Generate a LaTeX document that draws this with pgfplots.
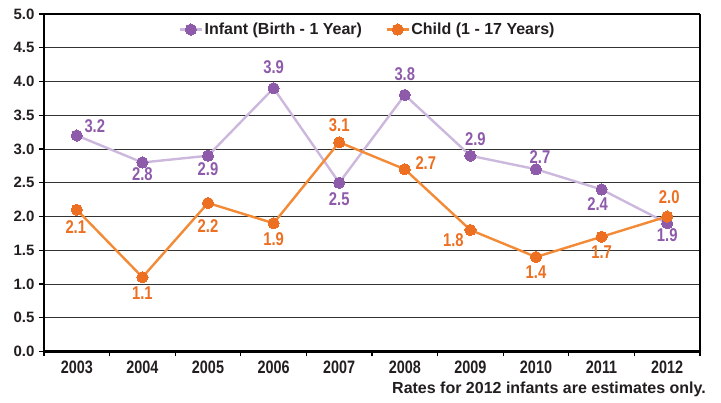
\documentclass[border=0pt]{standalone}
\usepackage{fontspec}
\setmainfont{Liberation Sans}
\newfontfamily\narrowfont{Liberation Sans}[FakeStretch=0.8]
\usepackage{pgfplots}
\usepackage{pgfplotstable}
\pgfplotsset{compat=1.18}

\definecolor{infantline}{HTML}{CDB8DD}
\definecolor{infantmark}{HTML}{8E5BAA}
\definecolor{childline}{HTML}{F28A36}
\definecolor{childmark}{HTML}{EC6F22}
\definecolor{ink}{HTML}{231F20}

% x = year index (0 = 2003), y = rate, dx/dy = label offset from the marker (pt)
\pgfplotstableread{
x y dx dy
0 3.2 18 9
1 2.8 0 -12
2 2.9 0 -13
3 3.9 0 21
4 2.5 0 -16
5 3.8 0 21
6 2.9 5 17
7 2.7 4 12
8 2.4 -4 -15
9 1.9 0 -12
}\infant

\pgfplotstableread{
x y dx dy
0 2.1 -1 -17
1 1.1 0 -16
2 2.2 0 -23
3 1.9 0 -16
4 3.1 0 17
5 2.7 21 6
6 1.8 -17 -10
7 1.4 0 -15
8 1.7 0 -15
9 2.0 2 19
}\child

\begin{document}
\begin{tikzpicture}
\begin{axis}[
  scale only axis,
  width=656pt, height=337.5pt,
  xmin=-0.5, xmax=9.5,
  ymin=0, ymax=5,
  xtick={0,...,9},
  xticklabels={2003,2004,2005,2006,2007,2008,2009,2010,2011,2012},
  major x tick style={draw=none},
  minor xtick={-0.5,0.5,...,9.5},
  minor tick length=5pt,
  ytick={0,0.5,...,5},
  major tick length=5pt,
  tick align=outside,
  tick pos=left,
  tick style={black, line width=1.2pt},
  ymajorgrids,
  grid style={black!80, line width=0.9pt},
  axis line style={black, line width=1.2pt},
  separate axis lines,
  y axis line style={line width=2.2pt},
  x axis line style={line width=2.2pt},
  /pgf/number format/assume math mode=true,
  yticklabel style={/pgf/number format/fixed, /pgf/number format/fixed zerofill,
    /pgf/number format/precision=1, font=\fontsize{15}{16}\selectfont\bfseries,
    text=ink, xshift=-1pt},
  xticklabel style={font=\narrowfont\fontsize{18}{19}\selectfont\bfseries, text=ink, yshift=-1pt},
  legend columns=2,
  legend style={at={(0.493,0.954)}, anchor=center, draw=none, fill=none,
    font=\fontsize{16}{17}\selectfont\bfseries, text=ink,
    nodes={inner sep=1.5pt},
    /tikz/every even column/.append style={column sep=22pt}},
  legend image code/.code={
    \draw[#1, mark=none] (0pt,0pt) -- (22pt,0pt);
    \draw[#1, only marks] plot coordinates {(11pt,0pt)};
  },
  nodes near coords,
  point meta=explicit,
  visualization depends on={\thisrow{dx}\as\dx},
  visualization depends on={\thisrow{dy}\as\dy},
  every node near coord/.append style={anchor=center, inner sep=0pt, outer sep=0pt,
    xshift=\dx pt, yshift=\dy pt,
    font=\narrowfont\fontsize{18.5}{19}\selectfont\bfseries,
    /pgf/number format/fixed, /pgf/number format/fixed zerofill,
    /pgf/number format/precision=1},
  clip=false,
]
\addplot[infantline, line width=2.4pt, mark=*, mark size=5.6pt,
  mark options={infantmark, fill=infantmark, line width=0pt},
  nodes near coords style={text=infantmark}]
  table[x=x, y=y, meta=y] {\infant};
\addlegendentry{Infant (Birth - 1 Year)}
\addplot[childline, line width=2.4pt, mark=*, mark size=5.6pt,
  mark options={childmark, fill=childmark, line width=0pt},
  nodes near coords style={text=childmark}]
  table[x=x, y=y, meta=y] {\child};
\addlegendentry{Child (1 - 17 Years)}
\draw[black, line width=1.2pt] (rel axis cs:1,0) -- (rel axis cs:1,1);
\draw[black, line width=2.2pt] (rel axis cs:0,1) -- (rel axis cs:1,1);
\node[anchor=base east, font=\fontsize{16}{17}\selectfont\bfseries, text=ink, inner sep=0pt]
  at ([xshift=6pt, yshift=-42pt]rel axis cs:1,0) {Rates for 2012 infants are estimates only.};
\end{axis}
\path ([xshift=-44pt, yshift=-51pt]current axis.south west) rectangle ([xshift=21pt, yshift=14pt]current axis.north east);
\end{tikzpicture}
\end{document}
